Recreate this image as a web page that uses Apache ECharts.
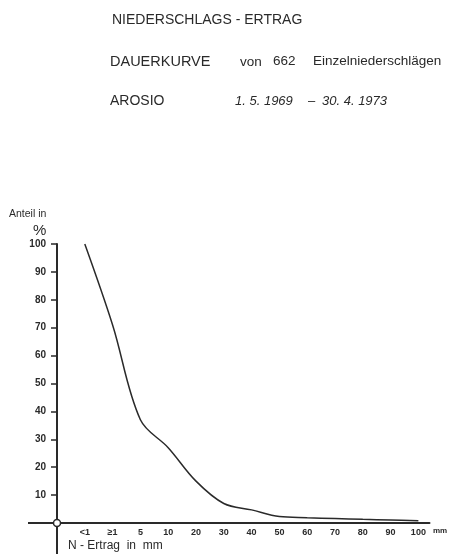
<!DOCTYPE html>
<html lang="de">
<head>
    <meta charset="utf-8" />
    <title>Niederschlags-Ertrag Arosio</title>
    <style>
        html, body { margin: 0; padding: 0; background: #fff; }
    </style>
</head>
<body>
    <div id="main" style="width:449px;height:554px;"></div>
    <script src="https://cdn.jsdelivr.net/npm/echarts@6/dist/echarts.min.js"></script>
    <script>
        // Kategorien der x-Achse (N-Ertrag in mm), Position 0 = Ursprung
        var xLabels = ['<1', '≥1', '5', '10', '20', '30', '40', '50', '60', '70', '80', '90', '100'];
        // Anteil in % (Dauerkurve)
        var anteil = [100, 71, 37, 27, 15, 7, 4.7, 2.3, 1.9, 1.6, 1.3, 1.1, 0.8];
        // Beschriftete Werte der y-Achse
        var yTicks = [10, 20, 30, 40, 50, 60, 70, 80, 90, 100];
        var xPos = xLabels.map(function (l, i) { return i + 1; });

        var ink = '#2a2a2a';
        var font = 'Liberation Sans';

        function txt(id, x, y, s, f) {
            return { type: 'text', id: id, left: x, top: y, style: { text: s, fill: ink, font: f + ' ' + font } };
        }

        var myChart = echarts.init(document.getElementById('main'));

        var option = {
            animation: false,
            grid: { left: 57, right: 19.5, top: 244, bottom: 31 },
            xAxis: {
                type: 'value',
                min: 0,
                max: 13.4,
                axisLine: { lineStyle: { color: ink, width: 2 } },
                axisTick: { show: false },
                splitLine: { show: false },
                axisLabel: {
                    customValues: xPos,
                    margin: 5,
                    color: ink,
                    fontSize: 9,
                    fontWeight: 'bold',
                    fontFamily: font,
                    formatter: function (v) { return xLabels[Math.round(v) - 1] || ''; }
                }
            },
            yAxis: {
                type: 'value',
                min: 0,
                max: 100,
                interval: 10,
                axisLine: { lineStyle: { color: ink, width: 2 } },
                axisTick: { customValues: yTicks, length: 6, lineStyle: { color: ink, width: 1.5 } },
                splitLine: { show: false },
                axisLabel: {
                    customValues: yTicks,
                    margin: 11,
                    color: ink,
                    fontSize: 10,
                    fontWeight: 'bold',
                    fontFamily: font
                }
            },
            series: [{
                type: 'line',
                data: anteil.map(function (v, i) { return [xPos[i], v]; }),
                smooth: 0.35,
                showSymbol: false,
                lineStyle: { color: ink, width: 1.5 },
                z: 3
            }],
            graphic: [
                txt('t1', 112, 13, 'NIEDERSCHLAGS - ERTRAG', '14px'),
                txt('t2', 110, 54, 'DAUERKURVE', '14.5px'),
                txt('t3', 240, 55, 'von', '13.5px'),
                txt('t4', 273, 54, '662', '13.5px'),
                txt('t5', 313, 54, 'Einzelniederschlägen', '13.5px'),
                txt('t6', 110, 94, 'AROSIO', '14px'),
                txt('t7', 235, 95, '1. 5. 1969', 'italic 13px'),
                txt('t8', 308, 95, '–', '13px'),
                txt('t9', 322, 95, '30. 4. 1973', 'italic 13px'),
                txt('t10', 9, 209, 'Anteil in', '10.5px'),
                txt('t11', 33, 223, '%', '15px'),
                txt('t12', 68, 540, 'N - Ertrag  in  mm', '12px'),
                txt('t13', 433, 527, 'mm', 'bold 8px')
            ]
        };
        myChart.setOption(option);

        // Achsenverlaengerung ueber den Ursprung hinaus und Kreis im Ursprung
        var o = myChart.convertToPixel({ gridIndex: 0 }, [0, 0]);
        myChart.setOption({
            graphic: [
                { type: 'line', id: 'xext', shape: { x1: 28, y1: o[1], x2: o[0], y2: o[1] }, style: { stroke: ink, lineWidth: 2 } },
                { type: 'line', id: 'yext', shape: { x1: o[0], y1: o[1], x2: o[0], y2: 554 }, style: { stroke: ink, lineWidth: 2 } },
                { type: 'circle', id: 'orig', shape: { cx: o[0], cy: o[1], r: 3.5 }, style: { fill: '#fff', stroke: ink, lineWidth: 1.5 }, z: 10 }
            ]
        });
    </script>
</body>
</html>
